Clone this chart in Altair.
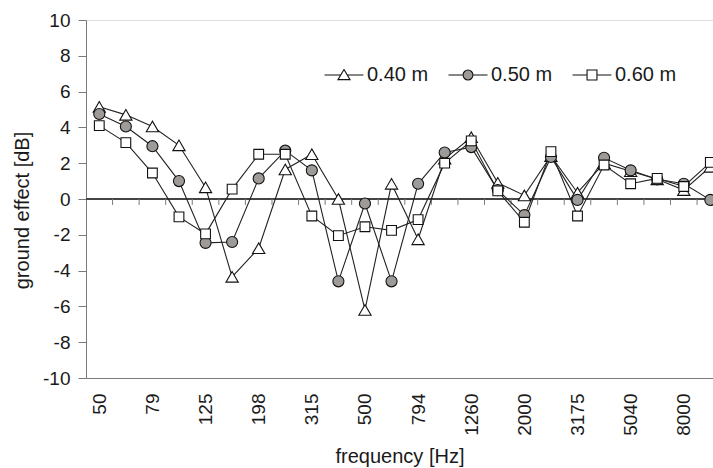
import altair as alt
import pandas as pd

# third-octave band centre frequencies (Hz), in plotting order
freqs = ["50", "63", "79", "100", "125", "158", "198", "250", "315", "397",
         "500", "630", "794", "1000", "1260", "1587", "2000", "2520", "3175",
         "4000", "5040", "6350", "8000", "10079"]

# ground effect (dB) for each source height
h040 = [5.15, 4.7, 4.05, 3.0, 0.65, -4.35, -2.75, 1.65, 2.5, 0.0, -6.2, 0.85,
        -2.25, 2.25, 3.45, 0.9, 0.2, 2.4, 0.35, 2.0, 1.55, 1.1, 0.5, 1.8]
h050 = [4.75, 4.05, 2.95, 1.0, -2.45, -2.4, 1.15, 2.7, 1.6, -4.6, -0.25, -4.6,
        0.85, 2.6, 2.9, 0.5, -0.9, 2.35, -0.05, 2.3, 1.6, 1.1, 0.85, -0.05]
h060 = [4.1, 3.15, 1.45, -1.0, -1.95, 0.55, 2.5, 2.5, -0.95, -2.05, -1.55, -1.75,
        -1.15, 2.0, 3.25, 0.45, -1.3, 2.65, -0.95, 1.9, 0.85, 1.15, 0.7, 2.05]

series_names = ["0.40 m", "0.50 m", "0.60 m"]

rows = []
for name, vals in zip(series_names, (h040, h050, h060)):
    for i, (f, v) in enumerate(zip(freqs, vals)):
        rows.append({"idx": i, "freq": f, "series": name, "ge": v})
df = pd.DataFrame(rows)

n = len(freqs)
bounds = pd.DataFrame({"b": [k + 0.5 for k in range(n - 1)]})

FONT = "Liberation Sans"
TXT = "#1a1a1a"
AX = "#7a7a7a"
GREY = "#9e9a97"
INK = "#111"

x_scale = alt.Scale(domain=[-0.5, n - 0.9], nice=False, zero=False)
y_scale = alt.Scale(domain=[-10, 10], nice=False, zero=False)

label_expr = "[" + ",".join(f"'{f}'" for f in freqs) + "][datum.value]"

# one axis definition per direction, shared by every layer
x_axis = alt.Axis(values=list(range(0, n, 2)), labelExpr=label_expr,
                  labelAngle=270, ticks=False, grid=False, domainColor=AX,
                  labelPadding=15, labelFontSize=19, labelColor=TXT,
                  labelFont=FONT, labelOverlap=False, title="frequency [Hz]",
                  titleFont=FONT, titleFontSize=20, titleFontWeight="normal",
                  titleColor=TXT, titlePadding=11)
y_axis = alt.Axis(values=list(range(-10, 11, 2)), tickSize=8, tickColor=AX,
                  domainColor=AX, grid=False, labelPadding=8, labelFontSize=19,
                  labelColor=TXT, labelFont=FONT, labelOverlap=False,
                  labelExpr="datum.value < 0 ? '-' + abs(datum.value) : '' + datum.value",
                  title="ground effect [dB]", titleFont=FONT, titleFontSize=20,
                  titleFontWeight="normal", titleColor=TXT, titlePadding=10,
                  titleY=190)

x_enc = alt.X("idx:Q", scale=x_scale, axis=x_axis)
y_enc = alt.Y("ge:Q", scale=y_scale, axis=y_axis)

base = alt.Chart(df)

zero_line = alt.Chart(bounds).mark_rule(color="#444", strokeWidth=1).encode(
    x=alt.datum(-0.5, scale=x_scale, axis=x_axis), x2=alt.datum(n - 0.9),
    y=alt.datum(0, scale=y_scale, axis=y_axis),
)
zero_ticks = alt.Chart(bounds).mark_rule(color=AX, strokeWidth=1).encode(
    x=alt.X("b:Q", scale=x_scale, axis=x_axis),
    y=alt.datum(0, scale=y_scale, axis=y_axis), y2=alt.datum(-0.33),
)

lines = base.mark_line(color="#222", strokeWidth=1.1).encode(
    x=x_enc, y=y_enc, detail="series:N",
)

points = base.mark_point(filled=True, stroke=INK, strokeWidth=1.1, opacity=1).encode(
    x=x_enc,
    y=y_enc,
    shape=alt.Shape("series:N", legend=None,
                    scale=alt.Scale(domain=series_names,
                                    range=["triangle-up", "circle", "square"])),
    fill=alt.Fill("series:N", legend=None,
                  scale=alt.Scale(domain=series_names, range=["white", GREY, "white"])),
    size=alt.Size("series:N", legend=None,
                  scale=alt.Scale(domain=series_names, range=[150, 95, 115])),
)

# legend keys: a short line through each marker
key_tri = "M-1.77,0H-0.28M0.28,0H1.77M0,-0.5L0.55,0.42L-0.55,0.42Z"
key_dot = ("M-1.77,0H-0.45M0.45,0H1.77M0.45,0A0.45,0.45 0 1,1 -0.45,0"
           "A0.45,0.45 0 1,1 0.45,0Z")
key_sq = "M-1.77,0H-0.45M0.45,0H1.77M-0.45,-0.45H0.45V0.45H-0.45Z"


def key_legend():
    return alt.Legend(
        title=None, orient="none", direction="horizontal",
        legendX=246, legendY=43, symbolSize=484, symbolStrokeWidth=1.1,
        labelFont=FONT, labelFontSize=20, labelColor=TXT,
        labelOffset=11, columnPadding=17,
    )


legend_layer = base.transform_filter("false").mark_point(
    filled=False, stroke=INK, color=INK, strokeWidth=1.1, opacity=1
).encode(
    x=x_enc,
    y=y_enc,
    shape=alt.Shape("series:N",
                    scale=alt.Scale(domain=series_names, range=[key_tri, key_dot, key_sq]),
                    legend=key_legend()),
    fill=alt.Fill("series:N",
                  scale=alt.Scale(domain=series_names, range=["white", GREY, "white"]),
                  legend=key_legend()),
)

chart = alt.layer(zero_line, zero_ticks, lines, points, legend_layer).resolve_scale(
    shape="independent", fill="independent", size="independent"
).properties(
    width=627, height=358,
    autosize=alt.AutoSizeParams(type="none"),
    padding={"left": 86, "top": 20, "right": 0, "bottom": 90},
).configure_view(stroke=None, strokeWidth=0).configure(background="white")

chart.save("out.html", embed_options={"renderer": "svg", "actions": False})
